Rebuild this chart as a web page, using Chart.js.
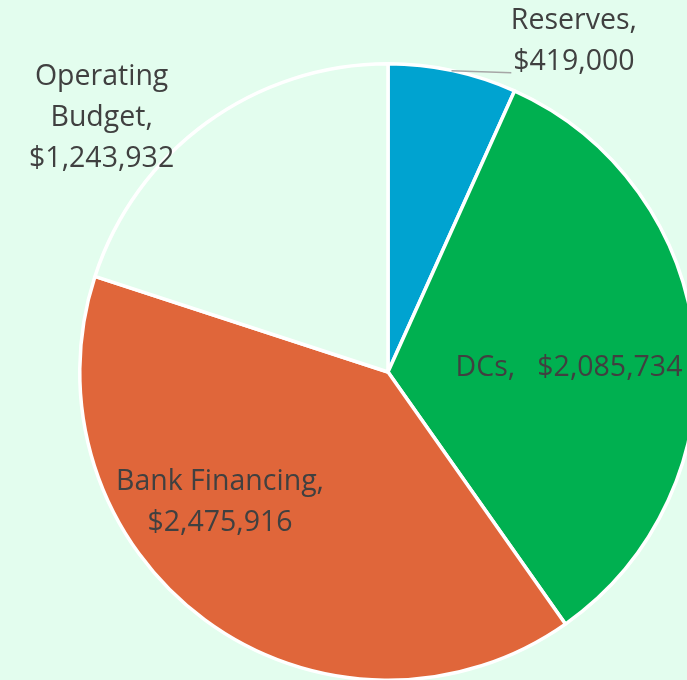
<!DOCTYPE html>
<html>
<head>
<meta charset="utf-8">
<script src="https://cdn.jsdelivr.net/npm/chart.js@4"></script>
<style>
  html, body { margin: 0; padding: 0; background: #e3fdee; overflow: hidden; }
  #wrap { position: relative; width: 687px; height: 680px; overflow: hidden; background: #e3fdee; }
  #box { position: absolute; left: 0; top: 0; width: 776px; height: 744px; }
</style>
</head>
<body>
<div id="wrap"><div id="box"><canvas id="c" width="776" height="744"></canvas></div></div>
<script>
const categories = ["Reserves", "DCs", "Bank Financing", "Operating Budget"];
const values = [419000, 2085734, 2475916, 1243932];
const colors = ["#00a3d0", "#00b050", "#e0663a", "#e3fdee"];
// label lines for each category
const labelLines = [
  ["Reserves,", "$419,000"],
  ["DCs,   $2,085,734"],
  ["Bank Financing,", "$2,475,916"],
  ["Operating", "Budget,", "$1,243,932"]
];
// label anchor, relative to pie center in units of radius; align
const labelAnchors = [
  { dx: 0.603, dy: -1.074, align: "center" },
  { dx: 0.219, dy: -0.013, align: "left" },
  { dx: -0.545, dy: 0.423, align: "center" },
  { dx: -0.929, dy: -0.823, align: "center" }
];

const labelPlugin = {
  id: "sliceLabels",
  afterDatasetsDraw(chart) {
    const ctx = chart.ctx;
    const meta = chart.getDatasetMeta(0);
    const fontSize = 28.5;
    const lineH = 41;
    ctx.save();
    // leader line for Reserves
    const a0 = meta.data[0];
    const cx = a0.x, cy = a0.y, r = a0.outerRadius;
    ctx.strokeStyle = "#a6a6a6";
    ctx.lineWidth = 1.5;
    ctx.beginPath();
    ctx.moveTo(cx + 0.206 * r, cy - 0.977 * r);
    ctx.lineTo(cx + 0.400 * r, cy - 0.971 * r);
    ctx.stroke();

    ctx.fillStyle = "#404040";
    ctx.font = fontSize + 'px "Open Sans", "Noto Sans", sans-serif';
    ctx.textBaseline = "middle";
    meta.data.forEach((arc, i) => {
      const a = labelAnchors[i];
      const lines = labelLines[i];
      const x = arc.x + a.dx * arc.outerRadius;
      const y = arc.y + a.dy * arc.outerRadius;
      ctx.textAlign = a.align;
      const startY = y - (lines.length - 1) * lineH / 2;
      lines.forEach((t, k) => ctx.fillText(t, x, startY + k * lineH));
    });
    ctx.restore();
  }
};

new Chart(document.getElementById("c"), {
  type: "pie",
  data: {
    labels: categories,
    datasets: [{
      data: values,
      backgroundColor: colors,
      borderColor: "#ffffff",
      borderWidth: 3.5
    }]
  },
  options: {
    responsive: false,
    animation: false,
    layout: { padding: 62 },
    plugins: { legend: { display: false }, tooltip: { enabled: false } }
  },
  plugins: [labelPlugin]
});
</script>
</body>
</html>
